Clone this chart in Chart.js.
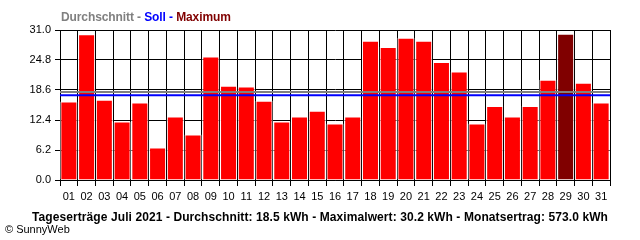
<!DOCTYPE html>
<html>
<head>
<meta charset="utf-8">
<script src="https://cdn.jsdelivr.net/npm/chart.js@4/dist/chart.umd.min.js"></script>
<style>
  html, body { margin: 0; padding: 0; background: #fff; }
  #wrap { position: relative; width: 640px; height: 240px; overflow: hidden; }
  canvas { position: absolute; left: 0; top: 0; }
  .t { position: absolute; font-family: "Liberation Sans", Arial, sans-serif; white-space: nowrap; line-height: 12px; }
  #head { left: 61px; top: 11px; font-size: 12px; font-weight: bold; letter-spacing: -0.1px; }
  #foot { left: 0; width: 640px; text-align: center; top: 211px; font-size: 12px; font-weight: bold; color: #000; letter-spacing: 0.09px; }
  #copy { left: 5px; top: 223px; font-size: 11px; color: #000; }
</style>
</head>
<body>
<div id="wrap">
  <canvas id="c" width="640" height="240"></canvas>
  <div id="head" class="t"><span style="color:#808080">Durchschnitt - </span><span style="color:#0000FF">Soll - </span><span style="color:#800000">Maximum</span></div>
  <div id="foot" class="t">Tageserträge Juli 2021 - Durchschnitt: 18.5 kWh - Maximalwert: 30.2 kWh - Monatsertrag: 573.0 kWh</div>
  <div id="copy" class="t">© SunnyWeb</div>
</div>
<script>
const days = ["01","02","03","04","05","06","07","08","09","10","11","12","13","14","15","16","17","18","19","20","21","22","23","24","25","26","27","28","29","30","31"];
const yields = [16.2,30.1,16.6,12.1,16.0,6.7,13.1,9.4,25.5,19.5,19.3,16.4,12.1,13.1,14.3,11.7,13.1,28.8,27.5,29.4,28.8,24.4,22.4,11.7,15.3,13.1,15.3,20.7,30.2,20.1,16.0];
const yTicks = [0, 6.2, 12.4, 18.6, 24.8, 31.0];
const averageLine = 18.2;
const sollLine = 17.5;

const maxVal = Math.max(...yields);
const barColors = yields.map(v => v === maxVal ? '#800000' : '#FF0000');

const refLines = {
  id: 'refLines',
  afterDatasetsDraw(chart) {
    const {ctx, chartArea, scales} = chart;
    const draw = (v, col) => {
      const y = scales.y.getPixelForValue(v);
      ctx.save();
      ctx.strokeStyle = col;
      ctx.lineWidth = 2;
      ctx.beginPath();
      ctx.moveTo(chartArea.left, y);
      ctx.lineTo(chartArea.right, y);
      ctx.stroke();
      ctx.restore();
    };
    draw(averageLine, '#808080');
    draw(sollLine, '#0000FF');
  }
};

const font = { family: "'Liberation Sans', Arial, sans-serif", size: 11 };

new Chart(document.getElementById('c'), {
  type: 'bar',
  data: {
    labels: days,
    datasets: [{
      data: yields,
      backgroundColor: barColors,
      borderColor: '#FFFFFF',
      borderWidth: 1,
      barPercentage: 0.96,
      categoryPercentage: 1.0
    }]
  },
  options: {
    responsive: false,
    animation: false,
    events: [],
    layout: { padding: { top: 30, right: 30, left: 0, bottom: 0 } },
    plugins: { legend: { display: false }, title: { display: false }, tooltip: { enabled: false } },
    scales: {
      x: {
        offset: true,
        grid: { offset: true, color: '#000', lineWidth: 1, tickLength: 6, tickColor: '#000' },
        border: { color: '#000', width: 1 },
        ticks: { color: '#000', font: font, padding: 4, maxRotation: 0, autoSkip: false },
        afterFit(s) { s.height = 60; }
      },
      y: {
        min: 0, max: 31,
        afterBuildTicks(s) { s.ticks = yTicks.map(v => ({ value: v })); },
        grid: { color: '#000', lineWidth: 1, tickLength: 5, tickColor: '#000' },
        border: { color: '#000', width: 1 },
        ticks: { color: '#000', font: font, padding: 4, callback: v => Number(v).toFixed(1) },
        afterFit(s) { s.width = 60; }
      }
    }
  },
  plugins: [refLines]
});
</script>
</body>
</html>
